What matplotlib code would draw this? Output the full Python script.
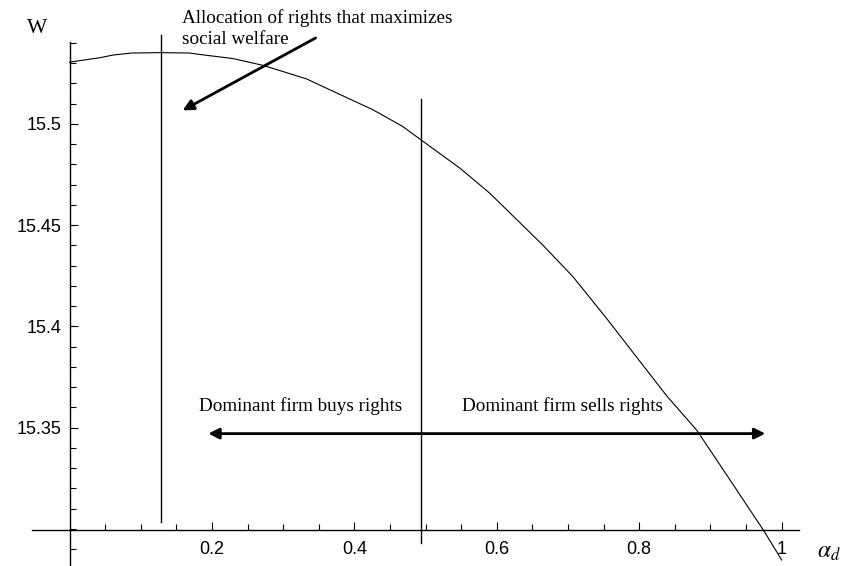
import matplotlib
matplotlib.use("Agg")
import matplotlib.pyplot as plt
import numpy as np

# welfare curve W(alpha_d)
alpha = [0.0, 0.043, 0.061, 0.087, 0.127, 0.169, 0.183, 0.229, 0.272, 0.333,
         0.375, 0.426, 0.468, 0.492, 0.548, 0.590, 0.665, 0.707, 0.754, 0.797,
         0.839, 0.881, 0.927, 0.975, 1.0]
welfare = [15.5305, 15.5327, 15.5340, 15.5350, 15.5352, 15.5350, 15.5343, 15.5323,
           15.5289, 15.5222, 15.5153, 15.5070, 15.4987, 15.4925, 15.4782, 15.4658,
           15.4400, 15.4245, 15.4040, 15.3845, 15.3655, 15.3486, 15.3244, 15.2990,
           15.2846]

alpha_opt = 0.128      # allocation that maximizes welfare
alpha_eq = 0.493       # no-trade point

xticks = [0.2, 0.4, 0.6, 0.8, 1.0]
xlabels = ["0.2", "0.4", "0.6", "0.8", "1"]
yticks = [15.35, 15.4, 15.45, 15.5]
ylabels = ["15.35", "15.4", "15.45", "15.5"]

serif = "Liberation Serif"
sans = "Liberation Sans"

fig = plt.figure(figsize=(8.45, 5.66), dpi=100)
ax = fig.add_axes([0, 0, 1, 1])
ax.set_xlim(-0.0976, 1.089)
ax.set_ylim(15.2816, 15.5612)

# axes crossing Mathematica style
for s in ["top", "right"]:
    ax.spines[s].set_visible(False)
ax.spines["left"].set_position(("data", 0))
ax.spines["bottom"].set_position(("data", 15.2995))
ax.spines["left"].set_bounds(15.2816, 15.5405)
ax.spines["bottom"].set_bounds(-0.0527, 1.024)
ax.spines["left"].set_linewidth(1.0)
ax.spines["bottom"].set_linewidth(1.0)

ax.set_xticks(xticks)
ax.set_xticklabels(xlabels, family=sans, fontsize=13)
ax.set_xticks([0.05, 0.1, 0.15, 0.25, 0.3, 0.35, 0.45, 0.5, 0.55, 0.65, 0.7, 0.75,
               0.85, 0.9, 0.95], minor=True)
ax.set_yticks(yticks)
ax.set_yticklabels(ylabels, family=sans, fontsize=13)
ymin = [round(v, 2) for v in np.arange(15.29, 15.545, 0.01)]
ax.set_yticks([v for v in ymin if v not in yticks], minor=True)
ax.tick_params(axis="both", which="major", direction="in", length=6, width=0.8)
ax.tick_params(axis="both", which="minor", direction="in", length=4, width=0.8)
ax.tick_params(axis="x", which="major", pad=8)
ax.tick_params(axis="y", which="major", pad=6)

ax.plot(alpha, welfare, color="black", lw=0.8, clip_on=False)

ax.plot([alpha_opt, alpha_opt], [15.3035, 15.5439], color="black", lw=1.0)
ax.plot([alpha_eq, alpha_eq], [15.293, 15.5124], color="black", lw=1.0)

ax.annotate("", xy=(0.1555, 15.5060), xytext=(0.349, 15.5431),
            arrowprops=dict(arrowstyle="-|>", lw=2.0, color="black", mutation_scale=16))
ax.annotate("", xy=(0.191, 15.347), xytext=(0.981, 15.347),
            arrowprops=dict(arrowstyle="<|-|>", lw=2.0, color="black", mutation_scale=16))

ax.text(0.158, 15.5473, "Allocation of rights that maximizes\nsocial welfare",
        family=serif, fontsize=13.8, ha="left", va="center", linespacing=1.3)
ax.text(0.3245, 15.3607, "Dominant firm buys rights", family=serif, fontsize=13.8,
        ha="center", va="center")
ax.text(0.692, 15.3607, "Dominant firm sells rights", family=serif, fontsize=13.8,
        ha="center", va="center")
ax.text(-0.0456, 15.5473, "W", family=serif, fontsize=15.5, ha="center", va="center")
ax.text(1.066, 15.2888, r"$\alpha_d$", fontsize=17, ha="center", va="center",
        math_fontfamily="stix")

fig.savefig("out.png", dpi=100)
